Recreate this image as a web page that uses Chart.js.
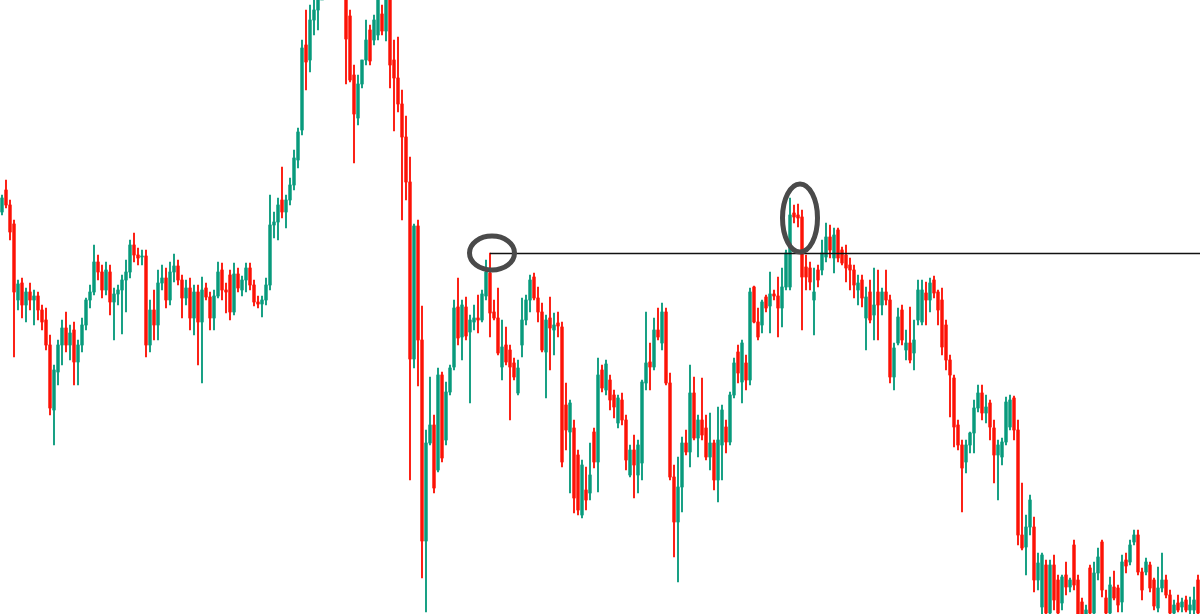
<!DOCTYPE html>
<html>
<head>
<meta charset="utf-8">
<script src="https://cdn.jsdelivr.net/npm/chart.js@4.4.0/dist/chart.umd.min.js"></script>
<style>
  html, body { margin: 0; padding: 0; background: #ffffff; overflow: hidden; }
  #wrap { width: 1200px; height: 614px; }
</style>
</head>
<body>
<div id="wrap"><canvas id="c" width="1200" height="614"></canvas></div>
<script>
// ---- DATA (price units) ----
const openPrices = [
402,424,409,390,314,331,309,322,314,318,
304,294,269,204,242,269,286,269,284,252,
269,289,314,322,352,342,324,342,312,320,
324,334,342,369,359,357,358,269,304,289,
331,336,314,342,348,334,316,326,296,322,
292,326,317,296,318,344,324,339,302,340,
324,334,346,329,312,310,314,329,389,392,
414,402,414,429,454,484,569,554,594,604,
614,644,664,674,659,644,614,598,539,496,
530,554,584,574,579,600,583,619,554,536,
510,477,432,255,388,274,73,171,189,144,
239,174,222,247,307,277,307,282,292,296,
294,318,341,302,296,247,269,264,251,221,
269,294,314,337,316,302,262,296,284,291,
287,209,182,186,159,99,124,121,182,152,
244,224,234,219,191,214,194,139,164,139,
151,231,252,247,284,271,302,231,137,92,
127,171,162,221,176,194,186,157,171,134,
169,187,172,219,262,232,251,234,327,292,
289,317,308,320,318,306,327,327,401,399,
397,347,346,314,344,344,357,377,356,384,
364,359,349,344,324,334,296,322,299,322,
309,322,314,237,271,304,264,271,261,294,
292,321,314,334,322,314,289,254,236,189,
169,152,169,181,206,221,201,211,186,159,
157,172,187,216,184,79,67,87,87,34,
7,49,1,49,34,11,39,27,69,34,
12,-1,46,1,41,72,16,1,27,26,
12,54,52,72,79,42,42,49,34,6,
26,34,19,1,11,7,14,4,4,34
];
const highPrices = [
419,434,414,394,334,336,326,331,324,322,
309,306,279,249,274,294,302,289,292,274,
296,316,329,369,359,349,352,349,326,329,
339,354,374,381,366,364,364,314,324,344,
349,346,352,360,354,339,334,336,329,329,
337,331,322,324,352,351,331,344,351,346,
338,351,351,334,318,318,336,419,402,416,
447,419,436,464,486,574,604,609,634,654,
674,694,704,709,694,674,634,604,549,539,
554,594,589,599,624,609,634,629,574,577,
524,498,457,390,394,308,184,237,199,246,
242,232,249,314,336,314,317,299,309,319,
324,354,361,314,326,294,287,269,256,254,
316,319,339,341,327,311,299,317,301,302,
292,231,214,194,164,154,147,171,186,256,
249,254,239,224,219,221,199,169,179,174,
234,302,271,296,306,311,306,241,149,157,
177,184,249,237,199,236,199,201,174,207,
209,194,222,256,269,274,259,326,328,306,
314,319,342,324,337,346,364,416,409,410,
404,359,352,346,349,374,391,389,386,386,
367,369,356,349,339,339,327,334,346,344,
326,344,319,271,306,309,284,307,294,334,
334,332,336,338,324,326,294,259,239,194,
174,174,182,214,229,229,219,214,194,174,
176,217,219,218,194,131,99,119,97,61,
61,54,54,59,39,39,52,36,74,39,
16,9,49,52,66,74,24,37,43,29,
59,61,74,84,84,46,56,52,36,47,
61,39,24,14,19,16,18,17,27,39
];
const lowPrices = [
399,406,374,257,304,296,292,304,289,294,
284,264,199,169,229,249,262,254,229,229,
262,284,306,319,334,316,319,299,274,309,
280,302,336,352,349,349,257,262,274,274,
324,306,309,332,329,296,309,284,279,249,
231,314,284,284,316,314,301,294,299,322,
318,322,324,308,306,297,309,324,376,374,
396,386,409,424,446,479,524,542,579,584,
619,624,644,649,634,619,530,532,451,489,
526,549,549,569,574,579,573,526,483,502,
394,414,134,246,228,36,2,169,121,142,
152,169,219,244,269,254,274,211,284,281,
292,314,277,294,259,234,249,194,234,219,
257,289,302,314,292,262,216,244,259,277,
147,164,121,101,99,96,104,114,146,122,
222,219,204,196,186,189,144,137,116,121,
134,224,224,244,274,264,229,134,57,32,
102,159,147,174,157,174,154,144,124,112,
134,161,169,216,231,211,224,229,291,274,
281,302,281,314,277,287,324,324,391,387,
284,324,324,279,327,339,352,356,341,352,
349,332,324,316,309,307,264,291,274,274,
299,309,231,224,269,269,254,251,244,289,
289,289,302,316,289,259,244,197,167,164,
102,141,161,161,202,194,191,174,131,114,
149,169,184,174,69,64,39,79,22,24,
0,-6,-6,4,-11,4,19,22,24,-11,
-11,-6,-6,-2,34,17,-6,-2,14,2,
2,41,49,69,39,14,39,22,4,2,
22,16,-6,-2,2,2,2,0,0,-6
];
const closePrices = [
416,409,382,322,330,309,322,314,318,304,
292,269,206,244,269,286,269,281,252,269,
289,314,322,352,342,324,344,312,320,324,
334,342,369,359,356,358,269,304,289,331,
336,314,342,348,334,316,326,296,322,292,
324,317,296,318,342,324,322,302,340,326,
334,346,329,312,310,314,329,389,392,409,
402,414,429,456,482,566,552,594,604,614,
644,664,674,659,644,629,575,534,500,530,
554,574,553,594,614,583,619,549,536,510,
477,432,255,388,274,73,171,189,126,239,
156,222,246,306,276,309,278,294,296,294,
320,342,301,296,261,267,252,247,237,246,
294,314,334,316,302,264,294,286,289,288,
152,184,211,116,104,149,114,139,152,239,
226,250,214,207,216,194,154,164,149,169,
232,251,247,284,277,302,231,137,92,127,
171,162,221,176,194,179,157,171,134,174,
204,172,219,251,241,271,234,322,292,277,
312,306,320,318,306,327,361,399,397,396,
337,337,332,322,334,361,377,364,379,356,
351,346,344,329,331,316,317,294,309,309,
322,314,237,266,297,274,271,254,274,324,
324,314,331,321,304,267,254,239,187,169,
146,169,181,206,221,201,207,187,159,169,
172,212,214,184,79,66,87,114,34,51,
59,1,49,14,1,37,27,34,29,0,
0,4,1,41,57,24,1,29,16,9,
52,48,69,79,42,24,52,26,8,26,
34,19,1,9,4,12,4,9,14,1
];
// candle labels (sequence numbers)
const candleLabels = openPrices.map((_, i) => String(i + 1));
// resistance level and marked touches
const levelStartIndex = 122;
const levelPrice = 361;
const markIndex = [122.5, 199.5];
const markPrice = [361, 396];

// ---- build chart ----
const UP = '#089a7c';
const DOWN = '#fc1206';
const candleColors = openPrices.map((o, i) => closePrices[i] >= o ? UP : DOWN);
const wickData = lowPrices.map((l, i) => [l, highPrices[i]]);
const bodyData = openPrices.map((o, i) => [o, closePrices[i]]);

const annotations = {
  id: 'annotations',
  afterDatasetsDraw(chart, args, opts) {
    const { ctx, chartArea, scales } = chart;
    const xs = scales.x, ys = scales.y;
    ctx.save();
    // horizontal level line
    const ly = Math.round(ys.getPixelForValue(levelPrice)) + 0.5;
    ctx.beginPath();
    ctx.moveTo(xs.getPixelForValue(levelStartIndex), ly);
    ctx.lineTo(chartArea.right, ly);
    ctx.strokeStyle = opts.lineColor;
    ctx.lineWidth = opts.lineWidth;
    ctx.stroke();
    // ellipses
    ctx.strokeStyle = opts.markColor;
    ctx.lineWidth = opts.markWidth;
    markIndex.forEach((mi, k) => {
      const cx = xs.getPixelForValue(mi);
      const cy = ys.getPixelForValue(markPrice[k]);
      ctx.beginPath();
      ctx.ellipse(cx, cy, opts.rx[k], opts.ry[k], 0, 0, Math.PI * 2);
      ctx.stroke();
    });
    ctx.restore();
  }
};

new Chart(document.getElementById('c'), {
  type: 'bar',
  data: {
    labels: candleLabels,
    datasets: [
      { label: 'wick', data: wickData, backgroundColor: candleColors, barThickness: 1.2,
        grouped: false, borderWidth: 0, order: 2 },
      { label: 'body', data: bodyData, backgroundColor: candleColors, barThickness: 2.8,
        grouped: false, borderWidth: 0, minBarLength: 1, order: 1 }
    ]
  },
  options: {
    responsive: false,
    animation: false,
    events: [],
    layout: { padding: 0 },
    plugins: {
      legend: { display: false },
      tooltip: { enabled: false },
      annotations: { lineColor: '#111111', lineWidth: 1.3, markColor: '#4a4a4a', markWidth: 5,
                     rx: [22.5, 17.5], ry: [17, 34] }
    },
    scales: {
      x: { display: false, offset: true, grid: { display: false } },
      y: { display: false, min: 0, max: 614, grid: { display: false } }
    }
  },
  plugins: [annotations]
});
</script>
</body>
</html>
